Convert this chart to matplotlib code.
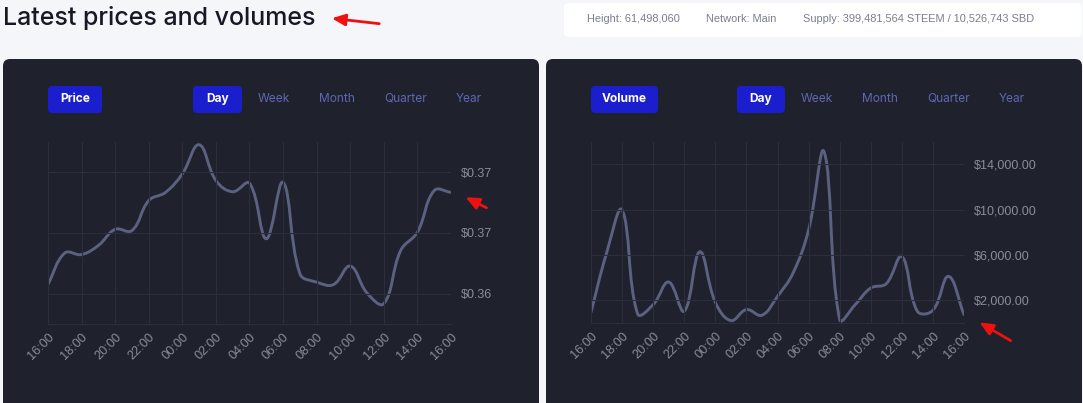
import numpy as np
import matplotlib
matplotlib.use("Agg")
import matplotlib.pyplot as plt
from matplotlib.patches import FancyBboxPatch, PathPatch
from matplotlib.path import Path
from matplotlib.ticker import FuncFormatter

# datos (una muestra por hora, 16:00 -> 16:00)
hours = list(range(25))
tick_hours = list(range(0, 25, 2))
tick_labels = ["16:00", "18:00", "20:00", "22:00", "00:00", "02:00", "04:00",
               "06:00", "08:00", "10:00", "12:00", "14:00", "16:00"]

price = [0.36431, 0.36534, 0.36529, 0.36559, 0.36612, 0.36608, 0.36707,
         0.36734, 0.36795, 0.36891, 0.36773, 0.36736, 0.36764, 0.36581,
         0.36767, 0.36466, 0.36438, 0.36430, 0.36491, 0.36402, 0.36367,
         0.36542, 0.36603, 0.36740, 0.36734]
price_ticks = [0.364, 0.366, 0.368]

volume = [946, 6156, 9961, 800, 1619, 3610, 1034, 6273, 1824, 214, 1180,
          683, 2351, 4400, 8205, 15083, 302, 1619, 3083, 3463, 5864, 1034,
          1122, 4107, 741]
volume_ticks = [2000, 6000, 10000, 14000]

W, H = 1083, 403
PANEL = "#1f212c"
GRID = "#2b2e3b"
LINE = "#5b6180"
TICK = "#8a8d99"
BLUE = "#1a1ecc"
TAB = "#5c68b3"

plt.rcParams['font.family'] = ['Liberation Sans', 'DejaVu Sans']

fig = plt.figure(figsize=(W / 100, H / 100), dpi=100)
fig.patch.set_facecolor("#f5f6fa")

# fondo en coordenadas de pixel
bg = fig.add_axes([0, 0, 1, 1])
bg.set_xlim(0, W)
bg.set_ylim(H, 0)
bg.axis("off")


def rbox(x0, y0, x1, y1, color, r=6):
    bg.add_patch(FancyBboxPatch((x0, y0), x1 - x0, y1 - y0,
                                boxstyle=f"round,pad=0,rounding_size={r}",
                                fc=color, ec="none"))


bg.text(3, 18, "Latest prices and volumes", fontsize=18, family="Inter",
        weight="medium", color="#161925", va="center", ha="left")

rbox(564, 3, 1082, 37, "white", 5)
info = [(587, "Height: 61,498,060"), (706, "Network: Main"),
        (803, "Supply: 399,481,564 STEEM / 10,526,743 SBD")]
for x, t in info:
    bg.text(x, 19.5, t, fontsize=7.9, color="#7b7f8c",
            va="center", ha="left")

rbox(3, 59, 539, 430, PANEL, 7)
rbox(546, 59, 1082, 430, PANEL, 7)


def buttons(x_name, name, x_day, tabs):
    rbox(x_name[0], 86, x_name[1], 113, BLUE, 4)
    bg.text(sum(x_name) / 2, 99, name, color="white", fontsize=8.6,
            family="Inter", weight="bold", ha="center", va="center")
    rbox(x_day[0], 86, x_day[1], 113, BLUE, 4)
    bg.text(sum(x_day) / 2, 99, "Day", color="white", fontsize=8.6,
            family="Inter", weight="bold", ha="center", va="center")
    for x, t in zip(tabs, ["Week", "Month", "Quarter", "Year"]):
        bg.text(x, 99, t, color=TAB, fontsize=8.6, family="Inter",
                ha="center", va="center")


buttons((48, 102), "Price", (193, 242), [274, 337, 406, 469])
buttons((591, 658), "Volume", (737, 785), [817, 880, 949, 1012])

# flechas rojas de la captura
for tail, head in [((382, 24), (329, 18)), ((489, 209), (463, 196)),
                   ((1013, 342), (977, 321))]:
    bg.annotate("", xy=head, xytext=tail,
                arrowprops=dict(arrowstyle="-|>,head_length=0.8,head_width=0.35",
                                color="#ee1111", lw=2))


def smooth(ax, x, y, xlim, ylim, pw, ph, t=0.4):
    # curva tipo chart.js (bezier con tension)
    sx = pw / (xlim[1] - xlim[0])
    sy = ph / (ylim[1] - ylim[0])
    n = len(x)
    pts = np.column_stack([x, y]).astype(float)
    cps = []
    for i in range(n):
        p0 = pts[max(i - 1, 0)]
        p1 = pts[i]
        p2 = pts[min(i + 1, n - 1)]
        d01 = np.hypot((p1[0] - p0[0]) * sx, (p1[1] - p0[1]) * sy)
        d12 = np.hypot((p2[0] - p1[0]) * sx, (p2[1] - p1[1]) * sy)
        tot = d01 + d12 if d01 + d12 > 0 else 1
        fa = t * d01 / tot
        fb = t * d12 / tot
        cps.append((p1 - fa * (p2 - p0), p1 + fb * (p2 - p0)))
    verts = [pts[0]]
    codes = [Path.MOVETO]
    for i in range(1, n):
        verts += [cps[i - 1][1], cps[i][0], pts[i]]
        codes += [Path.CURVE4] * 3
    ax.add_patch(PathPatch(Path(verts, codes), fc="none", ec=LINE, lw=2.1,
                           capstyle="round", joinstyle="round"))


def chart(box, y, ylim, yticks, fmt):
    x0, y0, x1, y1 = box
    ax = fig.add_axes([x0 / W, 1 - y1 / H, (x1 - x0) / W, (y1 - y0) / H])
    ax.set_facecolor("none")
    ax.set_xlim(0, 24)
    ax.set_ylim(*ylim)
    smooth(ax, hours, y, (0, 24), ylim, x1 - x0, y1 - y0)
    ax.set_xticks(tick_hours)
    ax.set_xticklabels(tick_labels, rotation=45, ha="right", va="top",
                       rotation_mode="anchor")
    ax.set_yticks(yticks)
    ax.yaxis.set_major_formatter(FuncFormatter(fmt))
    ax.yaxis.tick_right()
    ax.tick_params(axis="x", length=0, pad=5, colors=TICK, labelsize=9.2)
    ax.tick_params(axis="y", length=0, pad=7, colors=TICK, labelsize=9)
    ax.grid(True, color=GRID, lw=0.8)
    for s in ["top", "left", "right"]:
        ax.spines[s].set_visible(False)
    ax.spines["bottom"].set_color(GRID)
    ax.spines["bottom"].set_linewidth(0.8)
    return ax


chart((48, 142, 451, 324), price, (0.363, 0.369), price_ticks,
      lambda v, p: f"${v:.2f}")
chart((591, 142, 964, 323), volume, (0, 15950), volume_ticks,
      lambda v, p: f"${v:,.2f}")

fig.savefig("out.png", dpi=100, facecolor=fig.get_facecolor())
